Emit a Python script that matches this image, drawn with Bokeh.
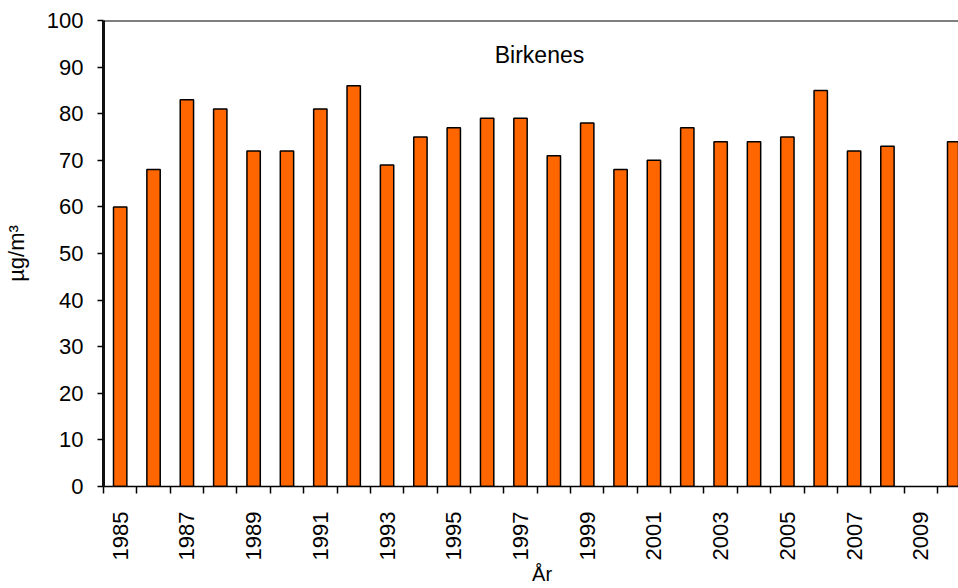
import math
from bokeh.plotting import figure
from bokeh.models import FixedTicker, Span, Label, ColumnDataSource, Range1d
from bokeh.embed import file_html
from bokeh.resources import INLINE

years = list(range(1985, 2011))
values = [60, 68, 83, 81, 72, 72, 81, 86, 69, 75, 77, 79, 79, 71, 78,
          68, 70, 77, 74, 74, 75, 85, 72, 73, None, 74]
label_years = [y for y in years if y % 2 == 1]
y_ticks = list(range(0, 101, 10))

FONT = "Liberation Sans"

xs = [y - 1985 + 0.5 for y, v in zip(years, values) if v is not None]
tops = [v for v in values if v is not None]
src = ColumnDataSource(dict(x=xs, top=tops))

p = figure(width=958, height=588, output_backend="svg", toolbar_location=None,
           x_range=Range1d(0, 25.63), y_range=Range1d(0, 100),
           min_border_left=103, min_border_right=0, min_border_top=20,
           min_border_bottom=102)
p.outline_line_color = None
p.grid.visible = False
p.background_fill_color = "white"
p.border_fill_color = "white"

p.vbar(x="x", top="top", width=0.4, bottom=0, source=src,
       fill_color="#FF6600", line_color="black", line_width=1.5)

# x axis
xa = p.xaxis[0]
xa.ticker = FixedTicker(ticks=[y - 1985 + 0.5 for y in label_years],
                        minor_ticks=list(range(0, len(years) + 1)))
xa.major_label_overrides = {y - 1985 + 0.5: str(y) for y in label_years}
xa.major_label_orientation = math.pi / 2
xa.major_tick_out = 0
xa.major_tick_in = 0
xa.minor_tick_out = 7
xa.minor_tick_in = 0
xa.minor_tick_line_color = "black"
xa.minor_tick_line_width = 1.5
xa.axis_line_color = "black"
xa.axis_line_width = 1.5
xa.major_label_standoff = 18
xa.major_label_text_font = FONT
xa.major_label_text_font_size = "22px"
xa.major_label_text_color = "black"
xa.axis_label = "\u00a0\u00a0\u00a0\u00a0År"
xa.axis_label_text_font = FONT
xa.axis_label_text_font_size = "20px"
xa.axis_label_text_font_style = "normal"
xa.axis_label_text_color = "black"
xa.axis_label_standoff = 0

# y axis
ya = p.yaxis[0]
ya.ticker = FixedTicker(ticks=y_ticks, minor_ticks=[])
ya.major_tick_out = 6
ya.major_tick_in = 0
ya.major_tick_line_color = "black"
ya.major_tick_line_width = 1.5
ya.axis_line_color = "#111111"
ya.axis_line_width = 3
ya.major_label_standoff = 14
ya.major_label_text_font = FONT
ya.major_label_text_font_size = "22px"
ya.major_label_text_color = "black"
ya.axis_label = "µg/m³"
ya.axis_label_text_font = FONT
ya.axis_label_text_font_size = "22px"
ya.axis_label_text_font_style = "normal"
ya.axis_label_text_color = "black"
ya.axis_label_standoff = 15

p.add_layout(Span(location=100, dimension="width", line_color="black", line_width=2))

p.add_layout(Label(x=13.07, y=92.7, text="Birkenes", text_font=FONT,
                   text_font_size="23px", text_align="center",
                   text_baseline="middle", text_color="black"))

open("out.html", "w").write(file_html(p, INLINE))
